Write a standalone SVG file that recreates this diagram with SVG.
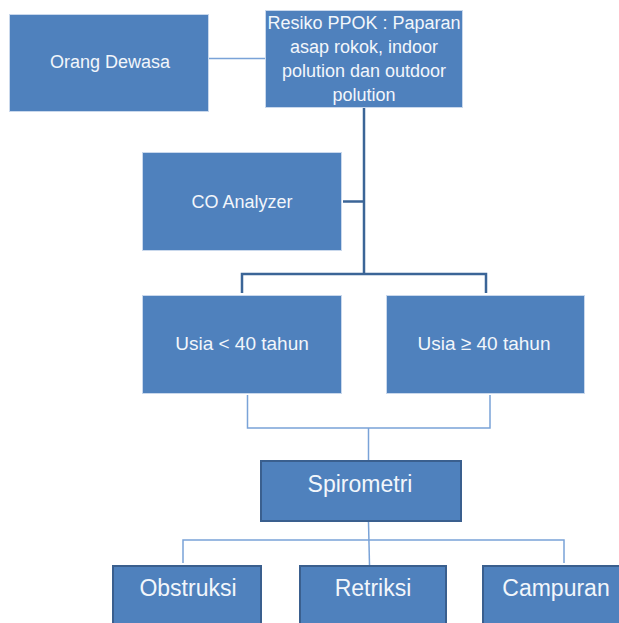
<svg xmlns="http://www.w3.org/2000/svg" width="619" height="623" viewBox="0 0 619 623">
<style>
.box{fill:#4f81bd;stroke:#c9d8ec;stroke-width:1}
.boxd{fill:#4f81bd;stroke:#3a5f8e;stroke-width:2}
text{font-family:"Liberation Sans",Arial,sans-serif;fill:#f2f6fb;text-anchor:middle}
.t18{font-size:18px}
.t19{font-size:19px}
.t23{font-size:23px}
.lt{fill:none;stroke:#7aa3d8;stroke-width:1.5}
.dk{fill:none;stroke:#3b6597;stroke-width:2.5}
</style>
<rect width="619" height="623" fill="#ffffff"/>
<g id="connectors">
<line class="lt" x1="209" y1="58.5" x2="265" y2="58.5"/>
<polyline class="dk" points="364,108 364,274"/>
<line class="dk" x1="343" y1="201.5" x2="364" y2="201.5"/>
<polyline class="dk" points="242,293 242,274 486,274 486,293"/>
<polyline class="lt" points="247.5,395 247.5,428 490,428 490,395"/>
<line class="lt" x1="368.5" y1="428" x2="368.5" y2="461"/>
<line class="lt" x1="368.5" y1="522" x2="369.5" y2="565"/>
<polyline class="lt" points="183,563 183,540 564,540 564,563"/>
</g>
<g id="orang-dewasa">
<rect class="box" x="9.5" y="14.5" width="199" height="97"/>
<text class="t18" x="110" y="68">Orang Dewasa</text>
</g>
<g id="resiko">
<rect class="box" x="265.5" y="10.5" width="197" height="97"/>
<text class="t18" x="364" y="29">Resiko PPOK : Paparan</text>
<text class="t18" x="364" y="53">asap rokok, indoor</text>
<text class="t18" x="364" y="77">polution dan outdoor</text>
<text class="t18" x="364" y="101">polution</text>
</g>
<g id="co-analyzer">
<rect class="box" x="142.5" y="152.5" width="199" height="98"/>
<text class="t18" x="242" y="208">CO Analyzer</text>
</g>
<g id="usia-kurang">
<rect class="box" x="142.5" y="295.5" width="199" height="98"/>
<text class="t19" x="242" y="350">Usia &lt; 40 tahun</text>
</g>
<g id="usia-lebih">
<rect class="box" x="386.5" y="295.5" width="198" height="98"/>
<text class="t19" x="484" y="350">Usia ≥ 40 tahun</text>
</g>
<g id="spirometri">
<rect class="boxd" x="261" y="461" width="200" height="60"/>
<text class="t23" x="360" y="492">Spirometri</text>
</g>
<g id="obstruksi">
<rect class="boxd" x="113" y="566" width="148" height="70"/>
<text class="t23" x="188" y="596">Obstruksi</text>
</g>
<g id="retriksi">
<rect class="boxd" x="300" y="566" width="146" height="70"/>
<text class="t23" x="373" y="596">Retriksi</text>
</g>
<g id="campuran">
<rect class="boxd" x="483" y="566" width="150" height="70"/>
<text class="t23" x="556" y="596">Campuran</text>
</g>
</svg>
